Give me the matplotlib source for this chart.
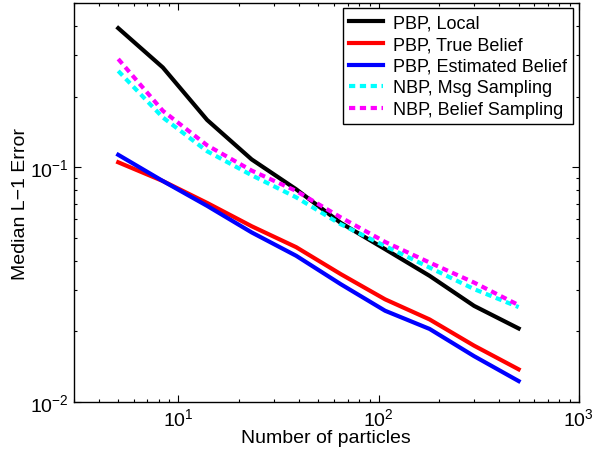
#!/usr/bin/env python3
"""
Median L-1 Fehler gegen Partikelanzahl (log-log), PBP vs. NBP
"""

import numpy as np
import matplotlib
matplotlib.use("Agg")
import matplotlib.pyplot as plt

plt.rcParams['font.family'] = ['Liberation Sans', 'DejaVu Sans']
plt.rcParams['mathtext.fontset'] = 'custom'
plt.rcParams['mathtext.rm'] = 'Liberation Sans'
plt.rcParams['mathtext.it'] = 'Liberation Sans:italic'
plt.rcParams['mathtext.bf'] = 'Liberation Sans:bold'

# Daten
n_particles = [5, 8.35, 13.9, 23.2, 38.7, 64.6, 107.7, 179.6, 299.6, 500]

pbp_local = [0.391, 0.266, 0.159, 0.108, 0.0806, 0.0580, 0.0448, 0.0345, 0.0257, 0.0206]
pbp_true = [0.105, 0.0874, 0.0705, 0.0561, 0.0457, 0.0351, 0.0274, 0.0225, 0.0174, 0.0138]
pbp_est = [0.113, 0.0874, 0.0685, 0.0528, 0.0420, 0.0318, 0.0245, 0.0205, 0.0157, 0.0123]
nbp_msg = [0.257, 0.163, 0.117, 0.0925, 0.0745, 0.0572, 0.0462, 0.0374, 0.0303, 0.0254]
nbp_belief = [0.289, 0.174, 0.124, 0.0968, 0.0793, 0.0612, 0.0481, 0.0393, 0.0323, 0.0259]

LW = 3.0
DOT = (0, (1.5, 1.1))

fig = plt.figure(figsize=(6.10, 4.52), dpi=100)
ax = fig.add_axes([0.121, 0.108, 0.828, 0.883])

ax.plot(n_particles, pbp_local, color='black', lw=LW, label='PBP, Local')
ax.plot(n_particles, pbp_true, color='red', lw=LW, label='PBP, True Belief')
ax.plot(n_particles, pbp_est, color='blue', lw=LW, label='PBP, Estimated Belief')
ax.plot(n_particles, nbp_msg, color='cyan', lw=LW, ls=DOT, dash_capstyle='butt',
        label='NBP, Msg Sampling')
ax.plot(n_particles, nbp_belief, color='magenta', lw=LW, ls=DOT, dash_capstyle='butt',
        label='NBP, Belief Sampling')

ax.set_xscale('log')
ax.set_yscale('log')
ax.set_xlim(3, 1000)
ax.set_ylim(0.01, 0.5)

ax.tick_params(which='both', direction='in', top=True, right=True, labelsize=14)
ax.tick_params(which='major', length=5, width=0.8)
ax.tick_params(which='minor', length=2.5, width=0.8)
for s in ax.spines.values():
    s.set_linewidth(1.0)

ax.set_xlabel('Number of particles', fontsize=14, labelpad=0)
ax.set_ylabel('Median L\u22121 Error', fontsize=14, labelpad=1)

leg = ax.legend(loc='upper right', fontsize=13, fancybox=False, framealpha=1,
                edgecolor='black', labelspacing=0.25, handlelength=1.9,
                handletextpad=0.55, borderpad=0.35, borderaxespad=0.3)
leg.get_frame().set_linewidth(1.0)

fig.savefig('out.png', dpi=100)
